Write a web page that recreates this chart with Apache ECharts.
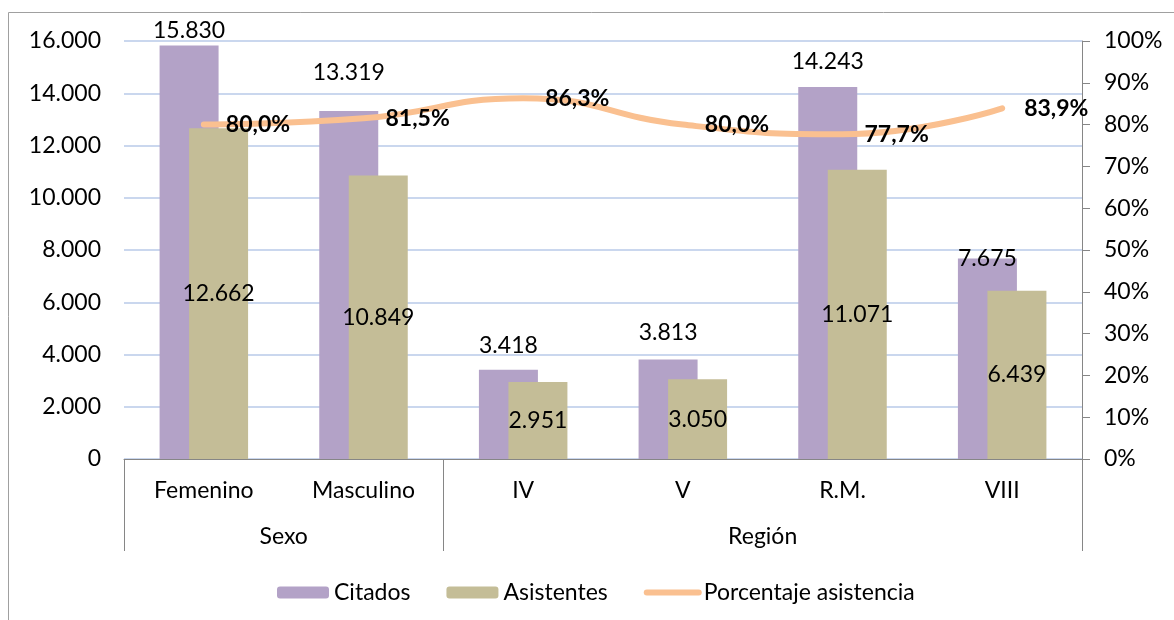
<!DOCTYPE html>
<html>
	<head>
		<meta charset="UTF-8">
		<title></title>
		<script src="https://cdn.jsdelivr.net/npm/echarts@6/dist/echarts.min.js"></script>
	</head>
	<body style="margin:0;background:#fff;">
		<div id="chart" style="width:1174px;height:620px;"></div>
		<script>
			// datos
			var categorias = ['Femenino', 'Masculino', 'IV', 'V', 'R.M.', 'VIII'];
			var grupos = ['Sexo', 'Región'];
			var citados = [15830, 13319, 3418, 3813, 14243, 7675];
			var asistentes = [12662, 10849, 2951, 3050, 11071, 6439];
			var porcentaje = [80.0, 81.5, 86.3, 80.0, 77.7, 83.9];

			var fuente = 'Lato';
			var tam = 23;
			// desplazamiento vertical de las etiquetas de Citados (movidas a mano en el original)
			var dyCitados = [0, -24, -10, -12, -11, 15];

			function miles(v) {
				return String(v).replace(/\B(?=(\d{3})+(?!\d))/g, '.');
			}

			var option = {
				animation: false,
				textStyle: {fontFamily: fuente},
				graphic: [{
					type: 'rect',
					shape: {x: 8.5, y: 12.5, width: 1300, height: 700},
					style: {fill: 'none', stroke: '#a0a0a0', lineWidth: 1}
				}],
				grid: {left: 124, right: 92, top: 41, bottom: 161},
				legend: {
					left: 272, top: 576,
					itemWidth: 52, itemHeight: 12, itemGap: 36,
					textStyle: {fontSize: tam, color: '#000', fontFamily: fuente},
					data: ['Citados', 'Asistentes', {
						name: 'Porcentaje asistencia',
						itemStyle: {opacity: 0},
						lineStyle: {width: 6, color: '#fac090', cap: 'round'}
					}]
				},
				xAxis: [{
					type: 'category',
					data: categorias,
					axisLine: {lineStyle: {color: '#868686'}},
					axisTick: {show: false},
					axisLabel: {fontSize: tam, color: '#000', margin: 20, fontFamily: fuente}
				}, {
					type: 'value',
					min: 0, max: 6,
					position: 'bottom',
					axisLine: {show: false},
					splitLine: {show: false},
					axisTick: {show: true, length: 92, customValues: [0, 2, 6], lineStyle: {color: '#868686'}},
					axisLabel: {
						fontSize: tam, color: '#000', margin: 66, fontFamily: fuente,
						customValues: [1, 4],
						formatter: function(v) { return v === 1 ? grupos[0] : grupos[1]; }
					}
				}],
				yAxis: [{
					type: 'value',
					min: 0, max: 16000, interval: 2000,
					axisLine: {show: false},
					axisTick: {show: false},
					splitLine: {lineStyle: {color: '#b9cae8', width: 1.5}},
					axisLabel: {fontSize: tam, color: '#000', margin: 23, fontFamily: fuente, formatter: miles}
				}, {
					type: 'value',
					min: 0, max: 100, interval: 10,
					position: 'right',
					axisLine: {show: true, lineStyle: {color: '#868686'}},
					axisTick: {show: true, length: 8, lineStyle: {color: '#868686'}},
					splitLine: {show: false},
					axisLabel: {fontSize: tam, color: '#000', margin: 22, fontFamily: fuente, formatter: '{value}%'}
				}],
				series: [{
					name: 'Citados',
					type: 'bar',
					barWidth: 59,
					barGap: '-50%',
					itemStyle: {color: '#b3a2c7'},
					data: citados.map(function(v, i) {
						return {value: v, label: {offset: [0, dyCitados[i]]}};
					}),
					label: {
						show: true, position: 'top', distance: 3,
						fontSize: tam, color: '#000', fontFamily: fuente,
						formatter: function(p) { return miles(p.value); }
					}
				}, {
					name: 'Asistentes',
					type: 'bar',
					barWidth: 59,
					barGap: '-50%',
					itemStyle: {color: '#c4bd97'},
					data: asistentes,
					label: {
						show: true, position: 'inside',
						fontSize: tam, color: '#000', fontFamily: fuente,
						formatter: function(p) { return miles(p.value); }
					}
				}, {
					name: 'Porcentaje asistencia',
					type: 'line',
					yAxisIndex: 1,
					smooth: 0.5,
					symbol: 'circle',
					symbolSize: 2,
					itemStyle: {color: '#fac090'},
					lineStyle: {color: '#fac090', width: 6, cap: 'round'},
					data: porcentaje,
					label: {
						show: true, position: 'right', distance: 21,
						fontSize: tam, fontWeight: 'bold', color: '#000', fontFamily: fuente,
						formatter: function(p) { return p.value.toFixed(1).replace('.', ',') + '%'; }
					}
				}]
			};

			var myChart = echarts.init(document.getElementById('chart'));
			myChart.setOption(option);
		</script>
	</body>
</html>
